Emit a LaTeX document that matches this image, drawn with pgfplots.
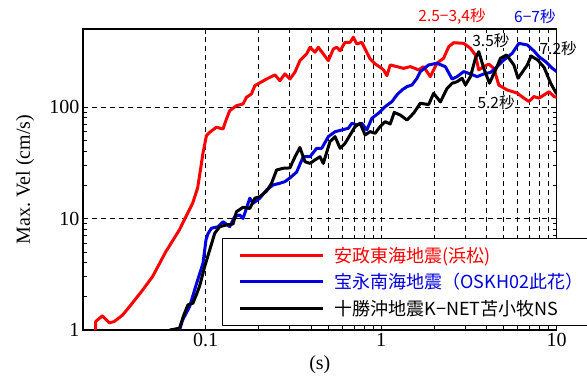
\documentclass[border=0pt]{standalone}
\usepackage{fontspec}
\setmainfont{Liberation Serif}
\newfontfamily\jp{Noto Sans CJK JP}
\usepackage{pgfplots}
\pgfplotsset{compat=1.18}
\definecolor{myred}{RGB}{255,0,0}
\definecolor{myblue}{RGB}{0,0,220}
\begin{document}
\begin{tikzpicture}
\begin{axis}[
  at={(83pt,46pt)}, anchor=south west,
  scale only axis, width=473.7pt, height=301pt,
  xmode=log, ymode=log,
  xmin=0.02, xmax=10, ymin=1, ymax=500,
  xtick={0.1,1,10}, xticklabels={0.1,1,10},
  ytick={1,10,100}, yticklabels={1,10,100},
  tick align=inside,
  major tick length=5pt, minor tick length=4pt,
  xmajorgrids, xminorgrids, ymajorgrids,
  grid style={black, line width=0.8pt, dash pattern=on 5pt off 4pt},
  minor grid style={black, line width=0.8pt, dash pattern=on 5pt off 4pt},
  axis line style={line width=1.2pt},
  every tick/.style={black, line width=0.8pt},
  tick label style={font=\fontsize{20}{24}\selectfont},
  /pgf/number format/assume math mode=true,
  xlabel={(s)}, ylabel={Max.\ Vel (cm/s)},
  label style={font=\fontsize{20}{24}\selectfont},
  xlabel style={at={(axis description cs:0.5,-0.116)}, anchor=center},
  ylabel style={at={(axis description cs:-0.1224,0.5)}, anchor=center},
  clip mode=individual,
  legend cell align=left,
  legend image code/.code={\draw[#1] (0pt,0pt) -- (83pt,0pt);},
  legend style={at={(axis description cs:0.2935,0.0133)}, anchor=south west,
    draw=black, line width=0.9pt, fill=white,
    font=\jp\fontsize{18}{20}\selectfont,
    inner xsep=16pt, inner ysep=7pt, column sep=8pt, row sep=5.5pt,
    column 2/.style={nodes={text width=238pt}}},
]
\addplot[myred, line width=3pt, line join=round] coordinates {
(0.0236,1.0)(0.0236,1.19)(0.0258,1.34)(0.0282,1.16)(0.0301,1.19)(0.0336,1.36)(0.0383,1.75)(0.0437,2.28)(0.0498,3.01)(0.0593,5.04)(0.0708,7.89)(0.0772,10.4)(0.0843,13.7)(0.090,18.8)(0.094,29.2)(0.0965,38.5)(0.101,55.3)(0.1054,59.3)(0.1151,65.8)(0.1256,63.5)(0.1313,78.0)(0.1371,92.6)(0.1498,102.7)(0.1633,106.4)(0.1708,122)(0.1824,131)(0.1905,155)(0.2223,178)(0.248,194)(0.2648,172)(0.2828,198)(0.302,178)(0.3225,205)(0.3444,260)(0.3763,299)(0.393,343)(0.4197,310)(0.4383,343)(0.468,299)(0.5,260)(0.534,331)(0.5583,343)(0.5832,319)(0.6227,380)(0.665,380)(0.6945,422)(0.7262,367)(0.7757,380)(0.8102,331)(0.8654,269)(0.924,243)(0.987,227)(1.031,215)(1.078,191)(1.126,238)(1.229,230)(1.341,222)(1.465,230)(1.634,215)(1.745,230)(1.905,187)(2.081,247)(2.27,274)(2.425,347)(2.589,377)(2.953,372)(3.225,336)(3.444,292)(3.597,215)(3.842,230)(4.104,242)(4.383,222)(4.68,157)(5.228,142)(5.963,133)(6.504,120)(6.945,112)(7.418,124)(7.924,120)(8.46,128)(9.04,137)(9.65,124)(10,122)
};
\addlegendentry{\textcolor{myred}{安政東海地震(浜松)}}
\addplot[myblue, line width=3pt, line join=round] coordinates {
(0.071,1.0)(0.0739,1.23)(0.081,1.62)(0.0882,2.53)(0.0965,3.96)(0.1004,6.41)(0.103,7.3)(0.1078,8.17)(0.1176,8.44)(0.1256,9.36)(0.1371,8.44)(0.1464,10.4)(0.1564,10.75)(0.1633,10.0)(0.1784,15.2)(0.1864,13.7)(0.2035,15.2)(0.2223,18.0)(0.2424,20.0)(0.2648,20.7)(0.2828,21.4)(0.302,23.1)(0.33,26.1)(0.3597,35.8)(0.393,35.8)(0.4292,42.6)(0.4583,42.6)(0.5,54.2)(0.546,60.0)(0.5963,62.2)(0.6504,64.4)(0.6803,71.4)(0.7262,69.0)(0.7757,71.4)(0.8285,62.2)(0.885,79.2)(0.965,87.9)(1.054,100.7)(1.151,111.6)(1.229,128.2)(1.313,142)(1.402,152)(1.498,157.4)(1.6,180.8)(1.671,207.6)(1.864,238)(2.081,246.6)(2.321,229.8)(2.535,178)(2.708,187)(2.953,207.6)(3.225,197.7)(3.524,187)(3.842,197.7)(4.197,203.9)(4.583,229.8)(5.0,264)(5.583,303)(6.09,372)(6.803,359.5)(7.418,317.8)(7.924,282.6)(8.65,254.6)(9.45,222)(10,207.6)
};
\addlegendentry{\textcolor{myblue}{宝永南海地震（OSKH02此花）}}
\addplot[black, line width=3pt, line join=round] coordinates {
(0.0623,1.0)(0.065,1.01)(0.071,1.04)(0.0749,1.35)(0.0792,1.68)(0.0846,1.74)(0.0888,2.10)(0.0924,2.48)(0.0987,3.70)(0.1054,5.22)(0.1126,7.36)(0.1202,8.44)(0.1313,8.74)(0.1432,8.93)(0.1498,11.5)(0.1633,12.6)(0.1784,12.3)(0.1905,15.2)(0.2035,15.7)(0.2223,17.6)(0.2374,20.7)(0.2535,27.2)(0.2765,28.2)(0.302,28.4)(0.3225,35.6)(0.3444,43.3)(0.3679,32.3)(0.393,31.2)(0.4197,33.5)(0.4482,35.8)(0.468,31.2)(0.511,48.9)(0.546,54.2)(0.5832,42.6)(0.6227,47.2)(0.665,56.1)(0.7101,66.6)(0.7586,71.4)(0.8102,56.1)(0.8654,60.1)(0.924,58.1)(0.987,66.9)(1.054,73.8)(1.126,70.4)(1.187,89.3)(1.284,84.7)(1.402,76.4)(1.53,87.8)(1.671,108)(1.864,105)(1.99,132.6)(2.174,110.9)(2.374,147)(2.535,163)(2.708,168.6)(2.891,180.8)(3.02,157.4)(3.225,187)(3.444,273.5)(3.597,313)(3.842,222)(4.141,163.2)(4.482,214.7)(4.786,273.5)(5.18,292.5)(5.702,238)(6.026,180.8)(6.803,238)(7.145,286.5)(7.787,264)(8.48,226)(9.24,163.2)(10,130.8)
};
\addlegendentry{十勝沖地震K−NET苫小牧NS}
\node[font=\jp\fontsize{15.5}{18}\selectfont, text=myred] at (axis description cs:0.779,1.040) {2.5−3,4秒};
\node[font=\jp\fontsize{15.5}{18}\selectfont, text=myblue] at (axis description cs:0.954,1.040) {6−7秒};
\node[font=\jp\fontsize{15.5}{18}\selectfont, fill=white, inner sep=0.5pt] at (axis description cs:0.861,0.963) {3.5秒};
\node[font=\jp\fontsize{15.5}{18}\selectfont] at (axis description cs:1.003,0.934) {7.2秒};
\node[font=\jp\fontsize{15.5}{18}\selectfont, fill=white, inner sep=0.5pt] at (axis description cs:0.872,0.757) {5.2秒};
\end{axis}
\pgfresetboundingbox
\useasboundingbox (0,0) rectangle (587pt,376pt);
\end{tikzpicture}
\end{document}
